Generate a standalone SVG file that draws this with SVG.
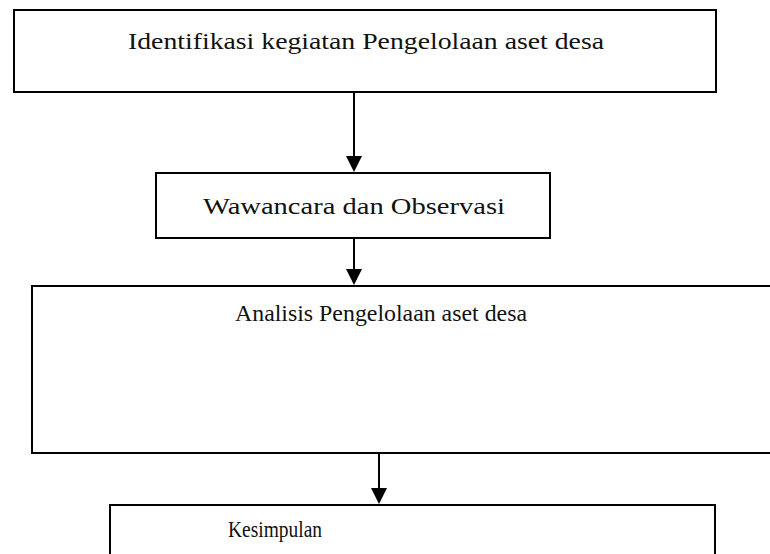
<svg xmlns="http://www.w3.org/2000/svg" width="770" height="554" viewBox="0 0 770 554">
<style>
.box{fill:#fff;stroke:#000;stroke-width:2}
.lbl{font-family:"Liberation Serif","DejaVu Serif",serif;font-size:24px;fill:#111}
.conn{stroke:#000;stroke-width:2;fill:none}
</style>
<rect width="770" height="554" fill="#fff"/>
<g id="n1">
<rect class="box" x="14" y="10" width="702" height="82"/>
<text class="lbl" x="128" y="49" textLength="476" lengthAdjust="spacingAndGlyphs">Identifikasi kegiatan Pengelolaan aset desa</text>
</g>
<g id="n2">
<rect class="box" x="156" y="173" width="394" height="65"/>
<text class="lbl" x="203" y="214" textLength="302" lengthAdjust="spacingAndGlyphs">Wawancara dan Observasi</text>
</g>
<g id="n3">
<rect class="box" x="32" y="286" width="760" height="167"/>
<text class="lbl" x="235" y="321" textLength="292" lengthAdjust="spacingAndGlyphs">Analisis Pengelolaan aset desa</text>
</g>
<g id="n4">
<rect class="box" x="110" y="505" width="605" height="80"/>
<text class="lbl" x="228" y="537" textLength="94" lengthAdjust="spacingAndGlyphs">Kesimpulan</text>
</g>
<g id="connectors">
<line class="conn" x1="354" y1="93" x2="354" y2="156"/>
<path d="M346,156 L362,156 L354,172 Z" fill="#000"/>
<line class="conn" x1="354" y1="238" x2="354" y2="269"/>
<path d="M346,269 L362,269 L354,285 Z" fill="#000"/>
<line class="conn" x1="379" y1="454" x2="379" y2="488"/>
<path d="M371,488 L387,488 L379,504 Z" fill="#000"/>
</g>
</svg>
